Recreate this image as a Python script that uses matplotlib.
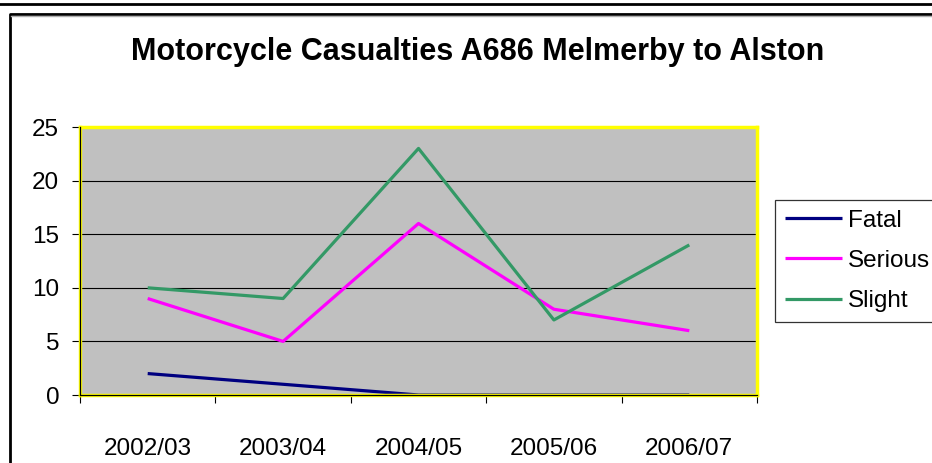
import matplotlib
matplotlib.use("Agg")
import matplotlib.pyplot as plt
from matplotlib.lines import Line2D
import numpy as np

plt.rcParams['font.family'] = ['Liberation Sans', 'DejaVu Sans']

categories = ["2002/03", "2003/04", "2004/05", "2005/06", "2006/07"]
fatal = [2, 1, 0, 0, 0]
serious = [9, 5, 16, 8, 6]
slight = [10, 9, 23, 7, 14]
title = "Motorcycle Casualties A686 Melmerby to Alston"

W, H = 932, 463
fig = plt.figure(figsize=(W / 100, H / 100), dpi=100)

# outer decorations
fig.add_artist(Line2D([0, 1], [1 - 3.5 / H, 1 - 3.5 / H], transform=fig.transFigure, color='black', lw=2))
fig.add_artist(Line2D([9.5 / W, 9.5 / W, 1], [0, 1 - 13.5 / H, 1 - 13.5 / H],
                      transform=fig.transFigure, color='black', lw=2))
fig.add_artist(Line2D([11 / W, 1], [1 - 15.5 / H, 1 - 15.5 / H], transform=fig.transFigure,
                      color='#b0b0b0', lw=1))

left, right, top, bottom = 80, 757, 127, 395
ax = fig.add_axes([left / W, 1 - bottom / H, (right - left) / W, (bottom - top) / H])
ax.set_facecolor('#C0C0C0')

x = np.arange(len(categories)) + 0.5
l1, = ax.plot(x, fatal, color='#000080', lw=2.3, label='Fatal', solid_capstyle='butt')
l2, = ax.plot(x, serious, color='#FF00FF', lw=2.3, label='Serious', solid_capstyle='butt')
l3, = ax.plot(x, slight, color='#339966', lw=2.3, label='Slight', solid_capstyle='butt')

ax.set_xlim(0, len(categories))
ax.set_ylim(0, 25)
ax.set_yticks([0, 5, 10, 15, 20, 25])
for yv in [5, 10, 15, 20]:
    ax.axhline(yv, color='black', lw=0.8, zorder=0.5)
ax.set_xticks(np.arange(len(categories) + 1))
ax.set_xticklabels([])
ax.set_xticks(x, minor=True)
ax.set_xticklabels(categories, minor=True)
ax.tick_params(axis='x', which='major', length=6, width=0.8, direction='out')
ax.tick_params(axis='x', which='minor', length=0, pad=31, labelsize=17.5)
ax.tick_params(axis='y', length=6, width=0.8, direction='out', pad=9, labelsize=17.5)

for s in ax.spines.values():
    s.set_color('#FFFF00')
    s.set_linewidth(2.5)
ax.axhline(0, color='black', lw=0.9, zorder=3, clip_on=False)
ax.axvline(0, color='black', lw=0.9, zorder=3, clip_on=False)

fig.text(478 / W, 1 - 52 / H, title, ha='center', va='center', fontsize=22, fontweight='bold')

leg = fig.legend(handles=[l1, l2, l3], loc='upper left', bbox_to_anchor=(775 / W, 1 - 200 / H),
                 bbox_transform=fig.transFigure, frameon=True, fancybox=False, fontsize=17.5,
                 handlelength=2.35, handletextpad=0.25, labelspacing=0.75, borderpad=0.4,
                 borderaxespad=0)
leg.get_frame().set_edgecolor('black')
leg.get_frame().set_linewidth(0.9)

fig.savefig('out.png', dpi=100)
